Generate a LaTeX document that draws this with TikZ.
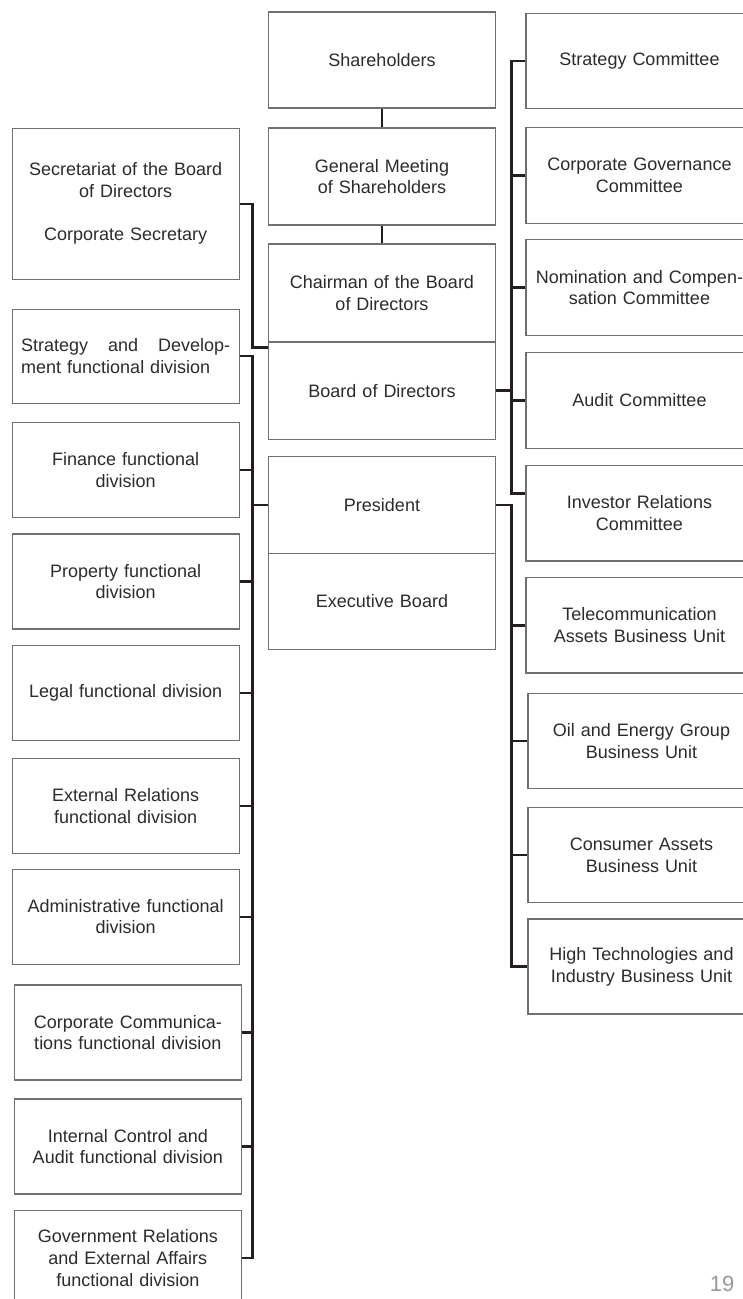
\documentclass[tikz,border=0pt]{standalone}
\usepackage{fontspec}
\setmainfont{Liberation Sans}
\usetikzlibrary{calc}

\definecolor{boxgray}{HTML}{707070}
\definecolor{linkblack}{HTML}{231F20}
\definecolor{textgray}{HTML}{2B2B2B}

\tikzset{
	unit/.style={draw=boxgray, line width=1.1pt, minimum width=227pt, text width=222pt, align=center, inner sep=0pt, text=textgray, font=\fontsize{18}{21.7}\selectfont},
	link/.style={draw=linkblack, line width=2.4pt},
}

\begin{document}
\begin{tikzpicture}[x=1pt, y=-1pt]
		\useasboundingbox (0,0) rectangle (743,1299);
		\coordinate (lbar) at (252.5,0);
		\coordinate (rbar) at (511.5,0);
		
		% centre column
		\node[unit, minimum height=96] (sh) at (382,60) {Shareholders};
		\node[unit, minimum height=97] (gm) at (382,176.5) {General Meeting\\of Shareholders};
		\node[unit, minimum height=98] (ch) at (382,293) {Chairman of the Board\\of Directors};
		\node[unit, minimum height=97] (bd) at (382,390.6) {Board of Directors};
		\node[unit, minimum height=96.6] (pr) at (382,505) {President};
		\node[unit, minimum height=96.4] (eb) at (382,601.5) {Executive Board};
		
		% left column
		\node[unit, minimum height=150.7] (sec) at (125.7,203.7) {Secretariat of the Board\\of Directors\\[21.7pt]Corporate Secretary};
		\node[unit, minimum height=94.3] (sd) at (125.7,356.2) {\makebox[209pt][s]{Strategy\hfill and\hfill Develop-}\\\makebox[209pt][l]{ment functional division}};
		\node[unit, minimum height=95] (fin) at (125.7,469.8) {Finance functional\\division};
		\node[unit, minimum height=95] (prop) at (125.7,581.5) {Property functional\\division};
		\node[unit, minimum height=95] (legal) at (125.7,693.2) {Legal functional division};
		\node[unit, minimum height=95] (ext) at (125.7,805.8) {External Relations\\functional division};
		\node[unit, minimum height=94.7] (adm) at (125.7,916.7) {Administrative functional\\division};
		\node[unit, minimum height=95] (cc) at (127.8,1032.5) {Corporate Communica-\\tions functional division};
		\node[unit, minimum height=95] (ic) at (127.8,1146.5) {Internal Control and\\Audit functional division};
		\node[unit, minimum height=95] (gr) at (127.8,1258.2) {Government Relations\\and External Affairs\\functional division};
		
		% right column
		\node[unit, minimum height=95.4] (stc) at (639.5,61) {Strategy Committee};
		\node[unit, minimum height=95.6] (cgc) at (639.5,175.5) {Corporate Governance\\Committee};
		\node[unit, minimum height=96.4] (nom) at (639.5,287.5) {Nomination and Compen-\\sation Committee};
		\node[unit, minimum height=96] (aud) at (639.5,400.3) {Audit Committee};
		\node[unit, minimum height=95.3] (inv) at (639.5,513.3) {Investor Relations\\Committee};
		\node[unit, minimum height=95.3] (tel) at (639.5,625.3) {Telecommunication\\Assets Business Unit};
		\node[unit, minimum height=95] (oil) at (641.5,741.2) {Oil and Energy Group\\Business Unit};
		\node[unit, minimum height=95.4] (con) at (641.5,855) {Consumer Assets\\Business Unit};
		\node[unit, minimum height=95] (ht) at (641.5,966.5) {High Technologies and\\Industry Business Unit};
		
		\node[text=gray!80, font=\fontsize{22}{22}\selectfont] (pg) at (722,1284) {19};
		
		\coordinate (bdtie) at ([yshift=-6pt]bd.north west);
		\coordinate (invtie) at ([yshift=20pt]inv.west);
		
		\path[link] (sh) -- (gm);
		\path[link] (gm) -- (ch);
		\path[link] (sec.east) -| (lbar |- bdtie) -- (bdtie);
		
		\path[link] (sd.east) -| (lbar |- gr.east) -- (gr.east);
		\foreach \n in {fin,prop,legal,ext,adm,cc,ic}
			\path[link] (\n.east) -- (lbar |- \n.east);
		\path[link] (pr.west) -- (lbar |- pr.west);
		
		\path[link] (stc.west) -| (rbar |- invtie) -- (invtie);
		\foreach \n in {cgc,nom,aud}
			\path[link] (\n.west) -- (rbar |- \n.west);
		\path[link] (bd.east) -- (rbar |- bd.east);
		
		\path[link] (pr.east) -| (rbar |- ht.west) -- (ht.west);
		\foreach \n in {tel,oil,con}
			\path[link] (\n.west) -- (rbar |- \n.west);
	\end{tikzpicture}
\end{document}
